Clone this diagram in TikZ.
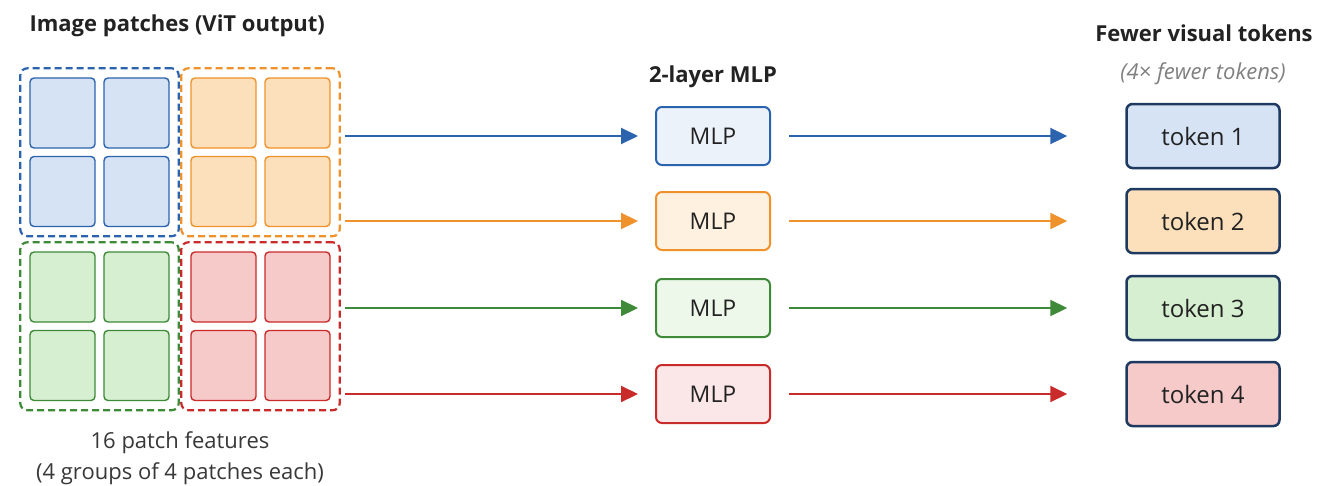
\documentclass[tikz,border=0pt]{standalone}
\usepackage{fontspec}
\setmainfont{Open Sans}
\usetikzlibrary{positioning, fit, arrows.meta}
\definecolor{cblue}{HTML}{2B63AE}
\definecolor{corange}{HTML}{EF922C}
\definecolor{cgreen}{HTML}{3E8A38}
\definecolor{cred}{HTML}{C92A2A}
\definecolor{fblue}{HTML}{D5E3F4}
\definecolor{forange}{HTML}{FCE0BB}
\definecolor{fgreen}{HTML}{D7EFD1}
\definecolor{fred}{HTML}{F7CACA}
\definecolor{navy}{HTML}{1F3A60}
\definecolor{txt}{HTML}{222222}
\tikzstyle{patch} = [rectangle, rounded corners=4pt, minimum width=65pt, minimum height=70pt, line width=1.4pt]
\tikzstyle{group} = [rectangle, rounded corners=7pt, dash pattern=on 7pt off 4pt, line width=2.2pt, inner sep=9pt]
\tikzstyle{mlp} = [rectangle, rounded corners=6pt, minimum width=114pt, minimum height=58pt, line width=2pt, text=txt, font=\fontsize{23}{27}\selectfont]
\tikzstyle{token} = [rectangle, rounded corners=6pt, minimum width=153pt, minimum height=64pt, line width=2.5pt, draw=navy, text=txt, font=\fontsize{24}{28}\selectfont]
\tikzstyle{arrow} = [line width=2.2pt, -{Triangle[length=17pt,width=16pt]}]
\tikzstyle{title} = [text=txt, font=\fontsize{22}{26}\selectfont\bfseries]
\tikzstyle{note} = [text=txt!90, font=\fontsize{22}{26}\selectfont]

\begin{document}
\begin{tikzpicture}[x=1pt, y=-1pt]
\useasboundingbox[fill=white] (0,0) rectangle (1318,485);

% patches, 4 groups of 2x2
\foreach \g/\c/\gx/\gy in {a/blue/0/0, b/orange/161/0, c/green/0/174, d/red/161/174} {
  \foreach \i/\px in {1/62.5, 2/136.5} {
    \foreach \j/\py in {1/113, 2/191.5} {
      \node (\g\j\i) [patch, draw=c\c, fill=f\c] at (\px+\gx, \py+\gy) {};
    }
  }
  \node (grp\g) [group, draw=c\c, fit=(\g11) (\g22)] {};
}

\node (ptitle) [title, anchor=west] at (26,26) {Image patches (ViT output)};
\node (pnote1) [note] at (180,443) {16 patch features};
\node (pnote2) [note] at (180,474) {(4 groups of 4 patches each)};

% MLPs
\node (mtitle) [title] at (713,77) {2-layer MLP};
\node (m1) [mlp, draw=cblue, fill=fblue!45] at (713,136) {MLP};
\node (m2) [mlp, draw=corange, fill=forange!45] at (713,221) {MLP};
\node (m3) [mlp, draw=cgreen, fill=fgreen!45] at (713,308) {MLP};
\node (m4) [mlp, draw=cred, fill=fred!45] at (713,394) {MLP};

% tokens
\node (ttitle) [title] at (1204,33) {Fewer visual tokens};
\node (tnote) [note, text=gray, font=\fontsize{22}{26}\selectfont\itshape] at (1203,74) {(4× fewer tokens)};
\node (t1) [token, fill=fblue] at (1203,136) {token 1};
\node (t2) [token, fill=forange] at (1203,221) {token 2};
\node (t3) [token, fill=fgreen] at (1203,308) {token 3};
\node (t4) [token, fill=fred] at (1203,394) {token 4};

\coordinate (s1) at (345,136);
\coordinate (s2) at (345,221);
\coordinate (s3) at (345,308);
\coordinate (s4) at (345,394);

\draw [arrow, cblue, shorten >=17pt] (s1) -- (m1);
\draw [arrow, corange, shorten >=17pt] (s2) -- (m2);
\draw [arrow, cgreen, shorten >=17pt] (s3) -- (m3);
\draw [arrow, cred, shorten >=17pt] (s4) -- (m4);

\draw [arrow, cblue, shorten <=18pt, shorten >=58pt] (m1) -- (t1);
\draw [arrow, corange, shorten <=18pt, shorten >=58pt] (m2) -- (t2);
\draw [arrow, cgreen, shorten <=18pt, shorten >=58pt] (m3) -- (t3);
\draw [arrow, cred, shorten <=18pt, shorten >=58pt] (m4) -- (t4);
\end{tikzpicture}
\end{document}
